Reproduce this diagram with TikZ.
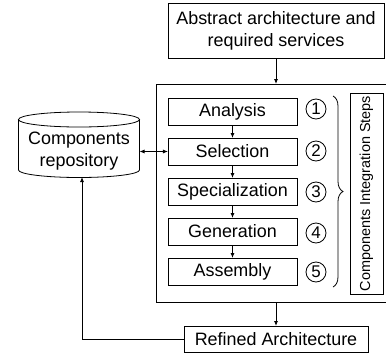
\documentclass[tikz,border=0pt]{standalone}
\usepackage{fontspec}
\setmainfont{Liberation Sans}
\usetikzlibrary{arrows.meta,decorations.pathreplacing,calc}
\begin{document}
\begin{tikzpicture}[x=1bp,y=-1bp,
  every node/.style={inner sep=0pt, outer sep=0pt},
  lw/.style={line width=0.8bp},
  txt/.style={font=\fontsize{18}{22}\selectfont, align=center},
  box/.style={draw, lw, txt, minimum height=27bp},
  stepbox/.style={box, minimum width=129bp},
  num/.style={draw, lw, circle, minimum size=20bp, font=\fontsize{17}{17}\selectfont},
  arr/.style={lw, -{Latex[length=5bp,width=4bp]}},
  darr/.style={lw, {Latex[length=5bp,width=4bp]}-{Latex[length=5bp,width=4bp]}}
]
\useasboundingbox (0,0) rectangle (386,354);
% top box
\node[box, minimum width=216bp, minimum height=55bp] (abs) at (276,30.5) {Abstract architecture and\\required services};
% big frame
\node[draw, lw, minimum width=240bp, minimum height=218bp] (frame) at (276,193) {};
% steps
\node[stepbox] (ana) at (232.5,111.5) {Analysis};
\node[stepbox] (sel) at (232.5,151.5) {Selection};
\node[stepbox] (spe) at (232.5,191.5) {Specialization};
\node[stepbox] (gen) at (232.5,231.5) {Generation};
\node[stepbox] (asm) at (232.5,271.5) {Assembly};
\node[num] (n1) at (316,109) {1};
\node[num] (n2) at (316,151) {2};
\node[num] (n3) at (316,192) {3};
\node[num] (n4) at (316,233) {4};
\node[num] (n5) at (316,272) {5};
\coordinate (bt) at (333,96);
\coordinate (bb) at (333,287);
\draw[lw, decorate, decoration={brace, amplitude=10bp, raise=0pt}] (bt) -- (bb);
% vertical label
\node[draw, lw, minimum width=33bp, minimum height=201bp] (lab) at (366.5,193.5) {};
\node[rotate=90, font=\fontsize{14.5}{15}\selectfont] (labt) at (lab.center) {Components Integration Steps};
% repository
\node[txt, minimum width=121bp, minimum height=51bp, text width=121bp] (repo) at (79,151.5) {Components\\repository};
\draw[lw] (18.5,119.5) -- (18.5,170) arc[start angle=180, end angle=360, x radius=60.5, y radius=-7.5] -- (139.5,119.5);
\draw[lw] (79,119.5) ellipse[x radius=60.5, y radius=7.5];
% refined
\node[box, minimum width=184bp, minimum height=26bp] (ref) at (276,339) {Refined Architecture};
% connectors
\draw[arr] (abs.south) -- (abs.south |- frame.north);
\draw[arr] (ana) -- (sel);
\draw[arr] (sel) -- (spe);
\draw[arr] (spe) -- (gen);
\draw[arr] (gen) -- (asm);
\draw[darr] (repo.east) -- (sel.west);
\draw[arr] (ref.north |- frame.south) -- (ref.north);
\draw[arr] (ref.west) -| ($(repo.south)+(3,0)$);
\end{tikzpicture}
\end{document}
